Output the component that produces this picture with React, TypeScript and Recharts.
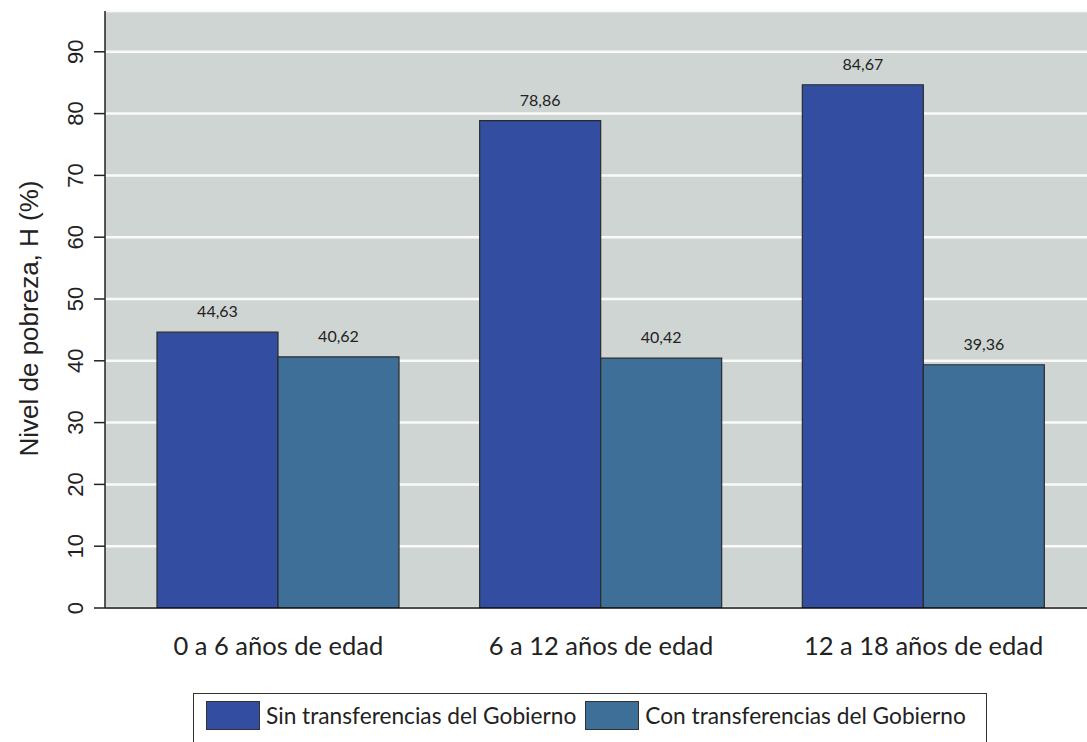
import { Bar, BarChart, CartesianGrid, LabelList, Legend, XAxis, YAxis } from 'recharts';

const AGE_GROUPS = ['0 a 6 años de edad', '6 a 12 años de edad', '12 a 18 años de edad'];
const WITHOUT_TRANSFERS = [44.63, 78.86, 84.67];
const WITH_TRANSFERS = [40.62, 40.42, 39.36];
const Y_TICKS = [0, 10, 20, 30, 40, 50, 60, 70, 80, 90];

const SERIES_KEYS = ['sin', 'con'];
const SERIES_LABEL: Record<string, string> = {
  sin: 'Sin transferencias del Gobierno',
  con: 'Con transferencias del Gobierno',
};

const COLORS: Record<string, string> = { sin: '#334ea0', con: '#3e6f99' };
const PLOT_BG = '#cfd5d2';
const INK = '#222';
const ARIAL = '"Liberation Sans", Arial, sans-serif';
const LATO = 'Lato, "Open Sans", sans-serif';

const data = AGE_GROUPS.map((group, i) => ({
  group,
  sin: WITHOUT_TRANSFERS[i],
  con: WITH_TRANSFERS[i],
}));

const fmtComma = (v: unknown) => Number(v).toFixed(2).replace('.', ',');

// y ticks are drawn sideways, reading bottom to top
function YTick({ x, y, payload }: any) {
  const bx = x - 11;
  return (
    <text
      x={bx}
      y={y}
      transform={`rotate(-90, ${bx}, ${y})`}
      textAnchor="middle"
      fontFamily={ARIAL}
      fontSize={22}
      fill={INK}
    >
      {payload.value}
    </text>
  );
}

function XTick({ x, y, payload }: any) {
  return (
    <text x={x} y={y + 47} textAnchor="middle" fontFamily={LATO} fontSize={25.5} fill={INK}>
      {payload.value}
    </text>
  );
}

function YTitle({ viewBox }: any) {
  const bx = 38;
  const cy = viewBox.y + viewBox.height / 2 + 9;
  return (
    <text
      x={bx}
      y={cy}
      transform={`rotate(-90, ${bx}, ${cy})`}
      textAnchor="middle"
      fontFamily={ARIAL}
      fontSize={26}
      fill={INK}
    >
      Nivel de pobreza, H (%)
    </text>
  );
}

// keep the legend in series order (recharts sorts by name otherwise)
function LegendBox() {
  return (
    <div
      style={{
        display: 'flex',
        alignItems: 'center',
        height: 60,
        width: 794,
        boxSizing: 'border-box',
        border: '1.5px solid #333',
        padding: '0 0 16px 12px',
        background: '#fff',
      }}
    >
      {SERIES_KEYS.map((key, i) => (
        <div key={key} style={{ display: 'flex', alignItems: 'center', marginLeft: i ? 9 : 0 }}>
          <span
            style={{
              display: 'inline-block',
              width: 54,
              height: 29,
              background: COLORS[key],
              border: '1px solid #333',
              boxSizing: 'border-box',
            }}
          />
          <span style={{ marginLeft: 6, fontFamily: LATO, fontSize: 22.7, color: INK, whiteSpace: 'nowrap' }}>
            {SERIES_LABEL[key]}
          </span>
        </div>
      ))}
    </div>
  );
}

export default function App() {
  return (
    <div style={{ position: 'absolute', left: 0, top: 0, width: 1087, height: 742, overflow: 'hidden', background: '#fff' }}>
      <BarChart
        width={1110}
        height={742}
        data={data}
        margin={{ top: 11, right: 13, bottom: 84, left: 0 }}
        barCategoryGap={40}
        barGap={0}
      >
        <CartesianGrid fill={PLOT_BG} stroke="#fafafa" strokeWidth={2.5} vertical={false} fillOpacity={1} />
        <XAxis
          dataKey="group"
          height={50}
          padding={{ left: 12, right: 12 }}
          tickLine={false}
          tickSize={0}
          tickMargin={0}
          axisLine={{ stroke: '#111', strokeWidth: 1.5 }}
          tick={<XTick />}
          interval={0}
        />
        <XAxis
          xAxisId="top"
          orientation="top"
          dataKey="group"
          height={0}
          padding={{ left: 12, right: 12 }}
          tick={false}
          tickLine={false}
          axisLine={{ stroke: '#222', strokeWidth: 2 }}
        />
        <YAxis
          width={105}
          domain={[0, 96.6]}
          ticks={Y_TICKS}
          allowDataOverflow
          tickSize={11}
          tickMargin={0}
          tickLine={{ stroke: '#222', strokeWidth: 1.5 }}
          axisLine={{ stroke: '#222', strokeWidth: 1.5 }}
          tick={<YTick />}
          label={<YTitle />}
        />
        <Legend
          verticalAlign="middle"
          align="center"
          layout="horizontal"
          wrapperStyle={{ left: 193, top: 693, width: 'auto' }}
          content={<LegendBox />}
        />
        <Bar dataKey="sin" fill={COLORS.sin} stroke="#2a2a2a" strokeWidth={1.2} isAnimationActive={false}>
          <LabelList
            dataKey="sin"
            position="top"
            offset={15}
            formatter={fmtComma}
            style={{ fontFamily: LATO, fontSize: 16, fill: INK }}
          />
        </Bar>
        <Bar dataKey="con" fill={COLORS.con} stroke="#2a2a2a" strokeWidth={1.2} isAnimationActive={false}>
          <LabelList
            dataKey="con"
            position="top"
            offset={15}
            formatter={fmtComma}
            style={{ fontFamily: LATO, fontSize: 16, fill: INK }}
          />
        </Bar>
      </BarChart>
    </div>
  );
}
